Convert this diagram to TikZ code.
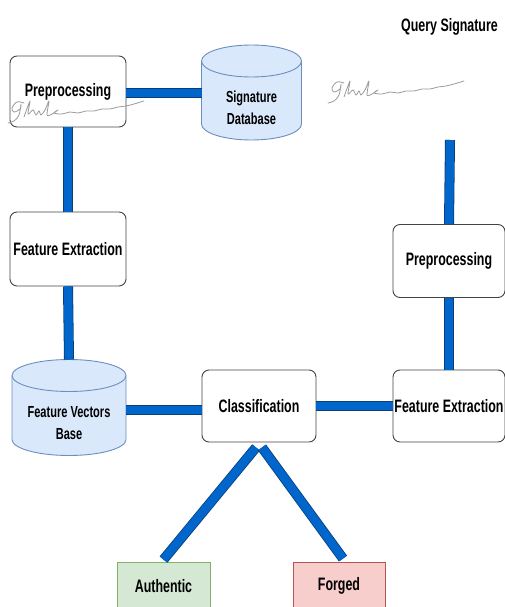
\documentclass[tikz,border=0pt]{standalone}
\usepackage{fontspec}
\setmainfont{Liberation Sans}[FakeStretch=0.69]
\usepackage{tikz}

\definecolor{boxgray}{HTML}{444444}
\definecolor{cylline}{HTML}{6C8EBF}
\definecolor{cylfill}{HTML}{DAE8FC}
\definecolor{authline}{HTML}{82B366}
\definecolor{authfill}{HTML}{D5E8D4}
\definecolor{forgline}{HTML}{B85450}
\definecolor{forgfill}{HTML}{F8CECC}
\definecolor{barblue}{HTML}{0066CC}
\definecolor{bardark}{HTML}{0B3D7A}
\definecolor{inkgray}{HTML}{9A9A9A}

\newcommand{\labelfont}{\fontsize{18}{22}\selectfont\bfseries}
\newcommand{\cylfont}{\fontsize{16}{21.5}\selectfont\bfseries}

\tikzset{%
procbox/.style={draw=boxgray, fill=white, rounded corners=7pt, line width=0.9pt, inner sep=1pt, font=\labelfont, align=center},
cylshape/.style={draw=cylline, fill=cylfill, line width=0.9pt},
cyltext/.style={font=\cylfont, align=center, inner sep=1pt},
resultbox/.style={line width=0.9pt, inner sep=1pt, minimum height=48pt, font=\labelfont},
bar/.style={draw=bardark, line width=0.8pt, double=barblue, double distance=8.4pt},
sigline/.style={inkgray, line width=0.8pt, line cap=round, line join=round}%
}

\begin{document}
\begin{tikzpicture}[x=1pt, y=-1pt]

\useasboundingbox (0,0) rectangle (505,607);

% arguments: x, y of the lower left end
\newcommand{\drawsignature}[2]{%
\begin{scope}[shift={(#1,#2)}]
\draw [sigline] plot [smooth, tension=0.6] coordinates {(16,-20) (9,-21) (4,-15) (6,-11) (12,-14) (13,-19) (11,-8) (6,-2) (0,0)} ;
\draw [sigline] plot [smooth, tension=0.55] coordinates {(16,-6) (22,-22) (20,-9) (25,-13) (28,-8) (31,-12) (33,-8) (37,-13) (41,-22) (39,-8) (44,-9) (50,-13) (46,-10) (54,-9) (62,-11) (70,-10) (78,-12) (86,-12) (94,-14) (102,-14) (110,-16) (118,-17) (126,-19) (136,-22)} ;
\end{scope}
}

% arguments: name, x, y, width, height
\newcommand{\drawcylinder}[5]{%
\path (#2, #3) node [minimum width=#4pt, minimum height=#5pt, inner sep=0, outer sep=0] (#1) {} ;
\pgfmathsetmacro\cylrx{#4/2}
\def\cylry{16pt}
\draw [cylshape] ([yshift=-\cylry]#1.north west) -- ([yshift=\cylry]#1.south west)
	arc [start angle=180, end angle=360, x radius=\cylrx pt, y radius=\cylry]
	-- ([yshift=-\cylry]#1.north east)
	arc [start angle=0, end angle=180, x radius=\cylrx pt, y radius=\cylry] -- cycle ;
\draw [cylshape, fill=none] ([yshift=-\cylry]#1.north west)
	arc [start angle=180, end angle=360, x radius=\cylrx pt, y radius=\cylry] ;
}

% database side

\node [procbox, minimum width=116pt, minimum height=71pt] (pre1) at (68, 91.5) {Preprocessing} ;
\drawcylinder{sigdb}{251.5}{92.5}{100}{95}
\node [cyltext] (sigdbtext) at ([yshift=-15.5pt]sigdb.center) {Signature\\Database} ;
\node [procbox, minimum width=116pt, minimum height=74pt] (fe1) at (68, 249) {Feature Extraction} ;
\drawcylinder{fvb}{69}{407.5}{114}{96}
\node [cyltext] (fvbtext) at ([yshift=-15.5pt]fvb.center) {Feature Vectors\\Base} ;

% query side

\node [font=\labelfont] (query) at (449.5, 27) {Query Signature} ;
\coordinate (qtop) at (450, 140) ;
\node [procbox, minimum width=112pt, minimum height=73pt] (pre2) at (449, 261) {Preprocessing} ;
\node [procbox, minimum width=112pt, minimum height=72pt] (fe2) at (449, 406) {Feature Extraction} ;

% decision

\node [procbox, minimum width=114pt, minimum height=72pt] (clf) at (259, 406) {Classification} ;
\node [resultbox, draw=authline, fill=authfill, minimum width=93pt] (auth) at (163.5, 586) {Authentic} ;
\node [resultbox, draw=forgline, fill=forgfill, minimum width=92pt] (forg) at (339, 586) {Forged} ;

% connectors

\draw [bar] ([yshift=-1.5pt]pre1.east) -- ([yshift=-1.5pt]pre1.east -| sigdb.west) ;
\draw [bar] (pre1.south) -- (fe1.north) ;
\draw [bar] (fe1.south) -- (fvb.north) ;
\draw [bar] ([yshift=-4pt]clf.west) -- ([yshift=-4pt]clf.west -| fvb.east) ;
\draw [bar] (clf.east) -- (fe2.west) ;
\draw [bar] (fe2.north) -- (pre2.south) ;
\draw [bar] (qtop) -- (pre2.north) ;
\draw [bar] ([xshift=-3pt, yshift=-5pt]clf.south) -- ([yshift=2pt]auth.north) ;
\draw [bar] ([xshift=3pt, yshift=-5pt]clf.south) -- ([xshift=4pt, yshift=3pt]forg.north) ;

% signatures

\drawsignature{8}{123}
\drawsignature{328}{103}

\end{tikzpicture}
\end{document}
